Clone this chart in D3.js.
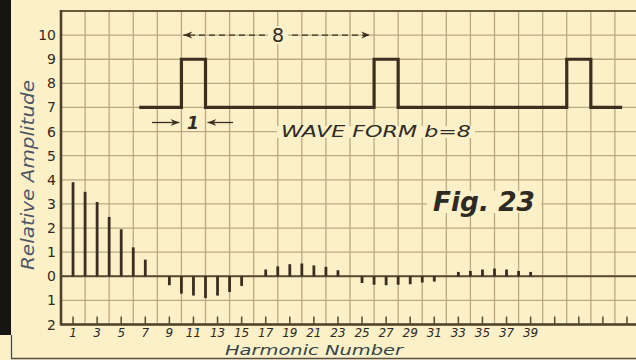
<!DOCTYPE html>
<html>
<head>
<meta charset="utf-8">
<script src="https://cdn.jsdelivr.net/npm/d3@7"></script>
<style>
  html, body { margin: 0; padding: 0; background: #fcf0c8; }
  svg { display: block; }
</style>
</head>
<body>
<script>
// harmonic spectrum of the pulse wave
var harmonics = [1, 2, 3, 4, 5, 6, 7, 8, 9, 10, 11, 12, 13, 14, 15, 16, 17, 18, 19, 20,
                 21, 22, 23, 24, 25, 26, 27, 28, 29, 30, 31, 32, 33, 34, 35, 36, 37, 38, 39];
var amplitudes = [3.9, 3.5, 3.08, 2.46, 1.95, 1.2, 0.69, 0, -0.37, -0.72, -0.8, -0.9, -0.8, -0.65, -0.4, 0,
                  0.28, 0.41, 0.5, 0.53, 0.45, 0.39, 0.25, 0, -0.28, -0.35, -0.37, -0.35, -0.33, -0.26, -0.22, 0,
                  0.18, 0.22, 0.28, 0.32, 0.28, 0.22, 0.18];

// wave form b = 8 drawn on the same grid (x in harmonic units)
var waveX = [6.5, 10, 10, 12, 12, 26, 26, 28, 28, 42, 42, 44, 44, 46.6];
var waveY = [7, 7, 9, 9, 7, 7, 9, 9, 7, 7, 9, 9, 7, 7];

var yTickValues = [10, 9, 8, 7, 6, 5, 4, 3, 2, 1, 0, -1, -2];
var yTickLabels = ["10", "9", "8", "7", "6", "5", "4", "3", "2", "1", "0", "1", "2"];
var xTickValues = [1, 3, 5, 7, 9, 11, 13, 15, 17, 19, 21, 23, 25, 27, 29, 31, 33, 35, 37, 39, 41, 43, 45, 47];
var xTickLabels = ["1", "3", "5", "7", "9", "11", "13", "15", "17", "19", "21", "23", "25", "27", "29", "31", "33", "35", "37", "39"];

var W = 636, H = 360;
var paper = "#fcf0c8", ink = "#3a2f20", grid = "#bba983";
var font = "'DejaVu Sans', 'Liberation Sans', sans-serif";

var svg = d3.select("body").append("svg")
    .attr("width", W)
    .attr("height", H);

svg.append("rect").attr("width", W).attr("height", H).attr("fill", paper);

var x = d3.scaleLinear().domain([0, 48]).range([61, 639]);
var y = d3.scaleLinear().domain([-2, 11]).range([324.5, 11]);

// grid
var g = svg.append("g");
g.selectAll(".vg")
  .data(d3.range(0, 49, 2))
  .enter().append("line")
  .attr("x1", function(d) { return x(d); })
  .attr("x2", function(d) { return x(d); })
  .attr("y1", y(-2)).attr("y2", y(11))
  .attr("stroke", grid).attr("stroke-width", 1.3);
g.selectAll(".hg")
  .data(d3.range(-2, 12))
  .enter().append("line")
  .attr("x1", x(0)).attr("x2", x(48))
  .attr("y1", function(d) { return y(d); })
  .attr("y2", function(d) { return y(d); })
  .attr("stroke", grid).attr("stroke-width", 1.3);

// frame lines
g.append("line").attr("x1", x(0)).attr("x2", x(48)).attr("y1", y(11)).attr("y2", y(11))
  .attr("stroke", "#6b5a3e").attr("stroke-width", 2.2);
g.append("line").attr("x1", x(0)).attr("x2", x(0)).attr("y1", y(11) - 1).attr("y2", y(-2) + 1)
  .attr("stroke", "#4e402b").attr("stroke-width", 2.6);
g.append("line").attr("x1", x(0)).attr("x2", x(48)).attr("y1", y(-2)).attr("y2", y(-2))
  .attr("stroke", "#4e402b").attr("stroke-width", 2.6);
g.append("line").attr("x1", x(0)).attr("x2", x(48)).attr("y1", y(0)).attr("y2", y(0))
  .attr("stroke", "#5a4a32").attr("stroke-width", 2);

// x ticks at odd harmonics
g.selectAll(".xt")
  .data(xTickValues)
  .enter().append("line")
  .attr("x1", function(d) { return x(d); })
  .attr("x2", function(d) { return x(d); })
  .attr("y1", y(-2)).attr("y2", y(-2) - 8)
  .attr("stroke", "#5a4a32").attr("stroke-width", 1.5);

// text with paper knockout
function label(txt, cx, cy, size, opts) {
  opts = opts || {};
  var t = svg.append("text")
    .attr("x", cx).attr("y", cy)
    .attr("text-anchor", opts.anchor || "middle")
    .attr("dominant-baseline", "central")
    .attr("font-family", font)
    .attr("font-size", size)
    .attr("font-style", opts.italic === false ? "normal" : "italic")
    .attr("font-weight", opts.weight || "normal")
    .attr("fill", opts.fill || "#2e2a24")
    .text(txt);
  if (opts.len) t.attr("textLength", opts.len).attr("lengthAdjust", "spacingAndGlyphs");
  if (opts.knock) {
    var b = t.node().getBBox();
    svg.insert("rect", function() { return t.node(); })
      .attr("x", b.x - opts.knock[0]).attr("y", b.y + opts.knock[1])
      .attr("width", b.width + 2 * opts.knock[0]).attr("height", b.height - 2 * opts.knock[1])
      .attr("fill", paper);
  }
  return t;
}

// arrow helper
function arrow(x1, x2, yy, dashed) {
  svg.append("line").attr("x1", x1).attr("x2", x2).attr("y1", yy).attr("y2", yy)
    .attr("stroke", ink).attr("stroke-width", 1.3)
    .attr("stroke-dasharray", dashed ? "6,4" : null);
  var dir = x2 > x1 ? -1 : 1;
  svg.append("path")
    .attr("d", "M" + x2 + "," + yy + "L" + (x2 + dir * 9) + "," + (yy - 3.5) + "L" + (x2 + dir * 6) + "," + yy +
               "L" + (x2 + dir * 9) + "," + (yy + 3.5) + "Z")
    .attr("fill", ink);
}

// period dimension "8"
arrow(265, x(10) + 2, y(10), true);
arrow(292, x(26) - 4, y(10), true);
label("8", 278, y(10), 19, {italic: false, knock: [4, 2]});

// pulse width "1"
arrow(152, x(10) - 2, 122.5, false);
arrow(233, x(12) + 2, 122.5, false);
label("1", 193, 122.5, 17, {weight: "bold"});

label("WAVE FORM  b=8", 376, 132, 15, {len: 190, knock: [4, 3]});
label("Fig. 23", 484, 202, 26, {weight: "bold", len: 102, knock: [6, 4]});

// wave form
var line = d3.line()
  .x(function(d, i) { return x(waveX[i]); })
  .y(function(d) { return y(d); });
svg.append("path")
  .attr("d", line(waveY))
  .attr("fill", "none")
  .attr("stroke", ink)
  .attr("stroke-width", 3.2)
  .attr("stroke-linejoin", "miter");

// spectrum lines
svg.selectAll(".bar")
  .data(amplitudes)
  .enter().append("rect")
  .attr("x", function(d, i) { return x(harmonics[i]) - 1.4; })
  .attr("width", 2.8)
  .attr("y", function(d) { return Math.min(y(d), y(0)); })
  .attr("height", function(d) { return Math.abs(y(d) - y(0)); })
  .attr("fill", ink);

// tick labels
svg.selectAll(".yl")
  .data(yTickValues)
  .enter().append("text")
  .attr("x", 56)
  .attr("y", function(d) { return y(d); })
  .attr("text-anchor", "end")
  .attr("dominant-baseline", "central")
  .attr("font-family", font)
  .attr("font-size", 14)
  .attr("fill", "#2e2a24")
  .text(function(d, i) { return yTickLabels[i]; });

svg.selectAll(".xl")
  .data(xTickLabels)
  .enter().append("text")
  .attr("x", function(d) { return x(+d); })
  .attr("y", 333)
  .attr("text-anchor", "middle")
  .attr("dominant-baseline", "central")
  .attr("font-family", font)
  .attr("font-style", "italic")
  .attr("font-size", 12)
  .attr("fill", "#2e2a24")
  .text(function(d) { return d; });

// axis titles
svg.append("text")
  .attr("transform", "translate(28,175) rotate(-90)")
  .attr("text-anchor", "middle")
  .attr("dominant-baseline", "central")
  .attr("font-family", font)
  .attr("font-style", "italic")
  .attr("font-size", 17)
  .attr("fill", "#4f5564")
  .attr("textLength", 190)
  .attr("lengthAdjust", "spacingAndGlyphs")
  .text("Relative Amplitude");

svg.append("text")
  .attr("x", 314)
  .attr("y", 350)
  .attr("text-anchor", "middle")
  .attr("dominant-baseline", "central")
  .attr("font-family", font)
  .attr("font-style", "italic")
  .attr("font-size", 14)
  .attr("fill", "#334446")
  .attr("textLength", 178)
  .attr("lengthAdjust", "spacingAndGlyphs")
  .text("Harmonic Number");

// page edge: dark binding strip and bottom edge
svg.append("rect").attr("x", 0).attr("y", 0).attr("width", 11).attr("height", 335).attr("fill", "#161514");
svg.append("line").attr("x1", 11.5).attr("x2", 11.5).attr("y1", 335).attr("y2", 358)
  .attr("stroke", "#444").attr("stroke-width", 1.2);
svg.append("line").attr("x1", 11).attr("x2", W).attr("y1", 358.5).attr("y2", 358.5)
  .attr("stroke", "#555049").attr("stroke-width", 1.5);
</script>
</body>
</html>
